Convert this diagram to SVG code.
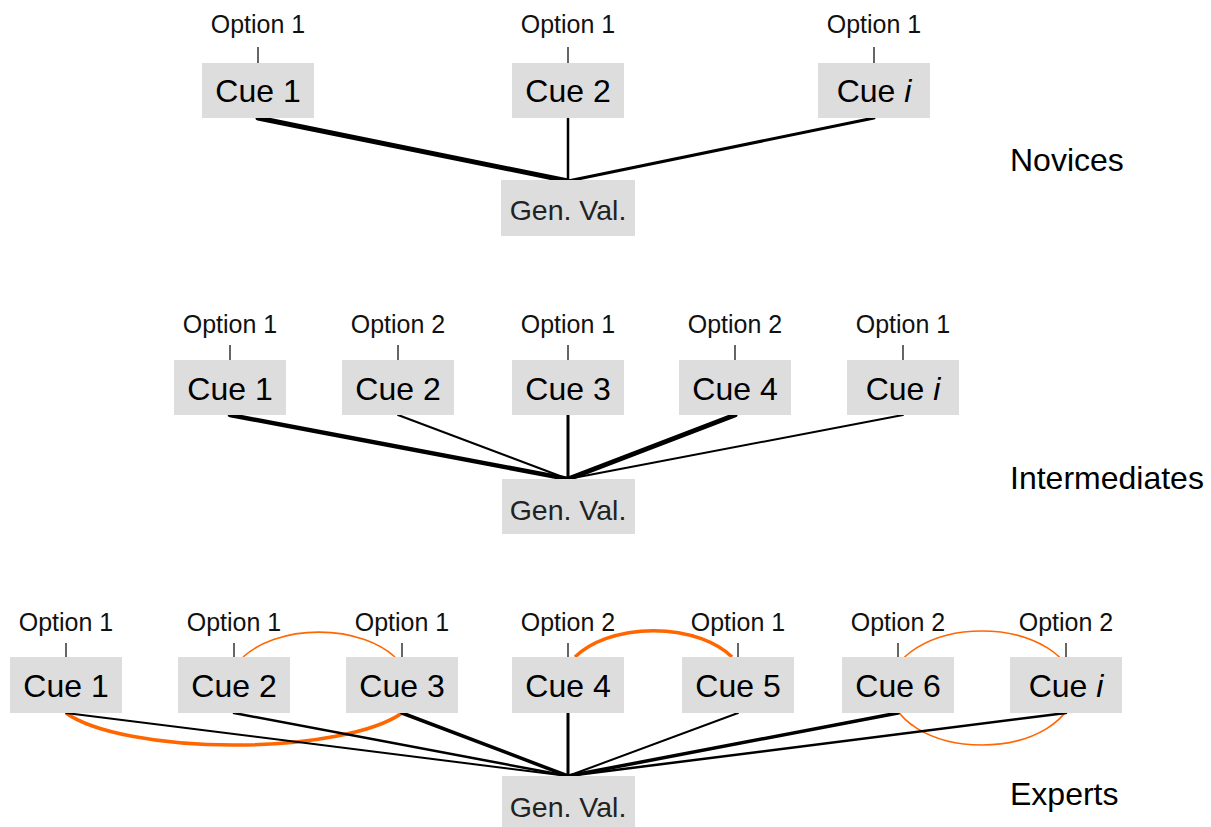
<svg xmlns="http://www.w3.org/2000/svg" width="1211" height="827" viewBox="0 0 1211 827">
<style>
  text { font-family: "Liberation Sans", Arial, sans-serif; fill: #000; }
  .box { fill: #dddddd; }
  .cue { font-size: 32px; text-anchor: middle; }
  .opt { font-size: 25px; text-anchor: middle; fill: #111; }
  .gv { font-size: 28.5px; text-anchor: middle; fill: #222; }
  .grp { font-size: 32px; }
  .tick { stroke: #333; stroke-width: 1.5; }
  .ln { stroke: #000; fill: none; stroke-linecap: round; }
  .arc { stroke: #ff6600; fill: none; }
  .it { font-style: italic; }
</style>
<rect width="1211" height="827" fill="#ffffff"/>

<!-- orange arcs (behind boxes) -->
<g id="associations">
  <path class="arc" stroke-width="1.6" d="M243,657 A92,57 0 0 1 395,657"/>
  <path class="arc" stroke-width="3.5" d="M66,713 A180,50 0 0 0 402,713"/>
  <path class="arc" stroke-width="3.5" d="M575,657 A92,55 0 0 1 732,657"/>
  <ellipse class="arc" stroke-width="1.6" cx="982" cy="688" rx="92" ry="57"/>
</g>

<g id="connectors">
  <!-- Novices -->
  <line class="ln" x1="258" y1="118" x2="568" y2="181" stroke-width="5"/>
  <line class="ln" x1="568" y1="118" x2="568" y2="181" stroke-width="2.5"/>
  <line class="ln" x1="874" y1="118" x2="568" y2="181" stroke-width="3"/>
  <!-- Intermediates -->
  <line class="ln" x1="230" y1="415" x2="568" y2="479" stroke-width="4.5"/>
  <line class="ln" x1="398" y1="415" x2="568" y2="479" stroke-width="2"/>
  <line class="ln" x1="568" y1="415" x2="568" y2="479" stroke-width="3"/>
  <line class="ln" x1="735" y1="415" x2="568" y2="479" stroke-width="5"/>
  <line class="ln" x1="903" y1="415" x2="568" y2="479" stroke-width="2"/>
  <!-- Experts -->
  <line class="ln" x1="66" y1="713" x2="568" y2="776" stroke-width="2"/>
  <line class="ln" x1="234" y1="713" x2="568" y2="776" stroke-width="2.5"/>
  <line class="ln" x1="402" y1="713" x2="568" y2="776" stroke-width="3.5"/>
  <line class="ln" x1="568" y1="713" x2="568" y2="776" stroke-width="3"/>
  <line class="ln" x1="738" y1="713" x2="568" y2="776" stroke-width="2"/>
  <line class="ln" x1="898" y1="713" x2="568" y2="776" stroke-width="3.5"/>
  <line class="ln" x1="1066" y1="713" x2="568" y2="776" stroke-width="2.5"/>
  <!-- option ticks -->
  <line class="tick" x1="258" y1="47" x2="258" y2="63"/>
  <line class="tick" x1="568" y1="47" x2="568" y2="63"/>
  <line class="tick" x1="874" y1="47" x2="874" y2="63"/>
  <line class="tick" x1="230" y1="345" x2="230" y2="360"/>
  <line class="tick" x1="398" y1="345" x2="398" y2="360"/>
  <line class="tick" x1="568" y1="345" x2="568" y2="360"/>
  <line class="tick" x1="735" y1="345" x2="735" y2="360"/>
  <line class="tick" x1="903" y1="345" x2="903" y2="360"/>
  <line class="tick" x1="66" y1="643" x2="66" y2="657"/>
  <line class="tick" x1="234" y1="643" x2="234" y2="657"/>
  <line class="tick" x1="402" y1="643" x2="402" y2="657"/>
  <line class="tick" x1="568" y1="643" x2="568" y2="657"/>
  <line class="tick" x1="738" y1="643" x2="738" y2="657"/>
  <line class="tick" x1="898" y1="643" x2="898" y2="657"/>
  <line class="tick" x1="1066" y1="643" x2="1066" y2="657"/>
</g>

<!-- Novices -->
<g id="nov-cue1"><rect class="box" x="202" y="63" width="112" height="55"/><text class="cue" x="258" y="102">Cue 1</text><text class="opt" x="258" y="33">Option 1</text></g>
<g id="nov-cue2"><rect class="box" x="512" y="63" width="112" height="55"/><text class="cue" x="568" y="102">Cue 2</text><text class="opt" x="568" y="33">Option 1</text></g>
<g id="nov-cuei"><rect class="box" x="818" y="63" width="112" height="55"/><text class="cue" x="874" y="102">Cue <tspan class="it">i</tspan></text><text class="opt" x="874" y="33">Option 1</text></g>
<g id="nov-gen"><rect class="box" x="501" y="180" width="134" height="56"/><text class="gv" x="568" y="220">Gen. Val.</text></g>
<g id="label-novices"><text class="grp" x="1010" y="171">Novices</text></g>

<!-- Intermediates -->
<g id="int-cue1"><rect class="box" x="174" y="360" width="112" height="55"/><text class="cue" x="230" y="400">Cue 1</text><text class="opt" x="230" y="333">Option 1</text></g>
<g id="int-cue2"><rect class="box" x="342" y="360" width="112" height="55"/><text class="cue" x="398" y="400">Cue 2</text><text class="opt" x="398" y="333">Option 2</text></g>
<g id="int-cue3"><rect class="box" x="512" y="360" width="112" height="55"/><text class="cue" x="568" y="400">Cue 3</text><text class="opt" x="568" y="333">Option 1</text></g>
<g id="int-cue4"><rect class="box" x="679" y="360" width="112" height="55"/><text class="cue" x="735" y="400">Cue 4</text><text class="opt" x="735" y="333">Option 2</text></g>
<g id="int-cuei"><rect class="box" x="847" y="360" width="112" height="55"/><text class="cue" x="903" y="400">Cue <tspan class="it">i</tspan></text><text class="opt" x="903" y="333">Option 1</text></g>
<g id="int-gen"><rect class="box" x="502" y="479" width="133" height="55"/><text class="gv" x="568" y="520">Gen. Val.</text></g>
<g id="label-intermediates"><text class="grp" x="1010" y="489">Intermediates</text></g>

<!-- Experts -->
<g id="exp-cue1"><rect class="box" x="10" y="657" width="112" height="56"/><text class="cue" x="66" y="697">Cue 1</text><text class="opt" x="66" y="631">Option 1</text></g>
<g id="exp-cue2"><rect class="box" x="178" y="657" width="112" height="56"/><text class="cue" x="234" y="697">Cue 2</text><text class="opt" x="234" y="631">Option 1</text></g>
<g id="exp-cue3"><rect class="box" x="346" y="657" width="112" height="56"/><text class="cue" x="402" y="697">Cue 3</text><text class="opt" x="402" y="631">Option 1</text></g>
<g id="exp-cue4"><rect class="box" x="512" y="657" width="112" height="56"/><text class="cue" x="568" y="697">Cue 4</text><text class="opt" x="568" y="631">Option 2</text></g>
<g id="exp-cue5"><rect class="box" x="682" y="657" width="112" height="56"/><text class="cue" x="738" y="697">Cue 5</text><text class="opt" x="738" y="631">Option 1</text></g>
<g id="exp-cue6"><rect class="box" x="842" y="657" width="112" height="56"/><text class="cue" x="898" y="697">Cue 6</text><text class="opt" x="898" y="631">Option 2</text></g>
<g id="exp-cuei"><rect class="box" x="1010" y="657" width="112" height="56"/><text class="cue" x="1066" y="697">Cue <tspan class="it">i</tspan></text><text class="opt" x="1066" y="631">Option 2</text></g>
<g id="exp-gen"><rect class="box" x="502" y="776" width="133" height="56"/><text class="gv" x="568" y="817">Gen. Val.</text></g>
<g id="label-experts"><text class="grp" x="1010" y="805">Experts</text></g>
</svg>
